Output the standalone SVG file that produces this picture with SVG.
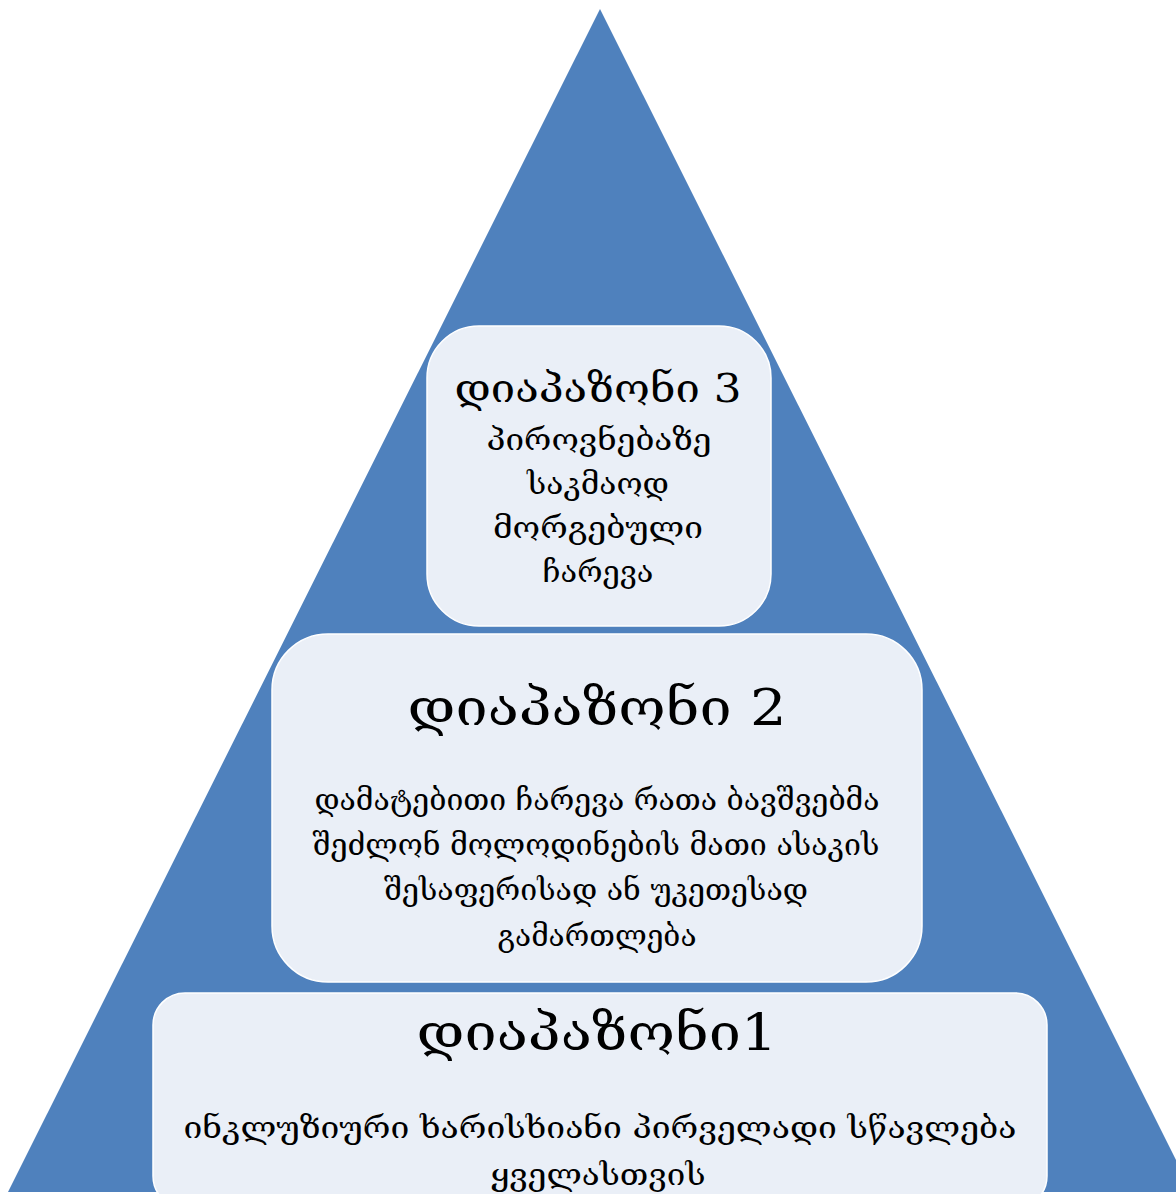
<svg xmlns="http://www.w3.org/2000/svg" width="1176" height="1194" viewBox="0 0 1176 1194">
<style>
.box{fill:#EAEFF7;stroke:#FFFFFF;stroke-width:1.5}
text{font-family:"DejaVu Serif","DejaVu Sans",serif;fill:#000;text-anchor:middle}
.t{font-size:40px}
.h{font-size:50px}
.b{font-size:29px}
</style>
<rect width="1176" height="1194" fill="#FFFFFF"/>
<g id="pyramid">
<polygon points="600,9 8,1192 1192,1192" fill="#4F81BD"/>
</g>
<g id="connectors"></g>
<g id="node3">
<rect class="box" x="427" y="326" width="344" height="300" rx="52"/>
<text class="t" x="598" y="402" textLength="287" lengthAdjust="spacingAndGlyphs">დიაპაზონი 3</text>
<text class="b" x="599" y="450" textLength="225" lengthAdjust="spacingAndGlyphs">პიროვნებაზე</text>
<text class="b" x="598" y="494" textLength="142" lengthAdjust="spacingAndGlyphs">საკმაოდ</text>
<text class="b" x="598" y="538" textLength="210" lengthAdjust="spacingAndGlyphs">მორგებული</text>
<text class="b" x="598" y="582" textLength="111" lengthAdjust="spacingAndGlyphs">ჩარევა</text>
</g>
<g id="node2">
<rect class="box" x="272" y="634" width="650" height="348" rx="56"/>
<text class="h" x="597" y="725" textLength="379" lengthAdjust="spacingAndGlyphs">დიაპაზონი 2</text>
<text class="b" x="597" y="810" textLength="565" lengthAdjust="spacingAndGlyphs">დამატებითი ჩარევა რათა ბავშვებმა</text>
<text class="b" x="596" y="855" textLength="567" lengthAdjust="spacingAndGlyphs">შეძლონ მოლოდინების მათი ასაკის</text>
<text class="b" x="596" y="900" textLength="424" lengthAdjust="spacingAndGlyphs">შესაფერისად ან უკეთესად</text>
<text class="b" x="597" y="946" textLength="199" lengthAdjust="spacingAndGlyphs">გამართლება</text>
</g>
<g id="node1">
<rect class="box" x="153" y="993" width="894" height="215" rx="32"/>
<text class="h" x="597" y="1050" textLength="361" lengthAdjust="spacingAndGlyphs">დიაპაზონი1</text>
<text class="b" x="600" y="1138" textLength="833" lengthAdjust="spacingAndGlyphs">ინკლუზიური ხარისხიანი პირველადი სწავლება</text>
<text class="b" x="598" y="1185" textLength="215" lengthAdjust="spacingAndGlyphs">ყველასთვის</text>
</g>
</svg>
